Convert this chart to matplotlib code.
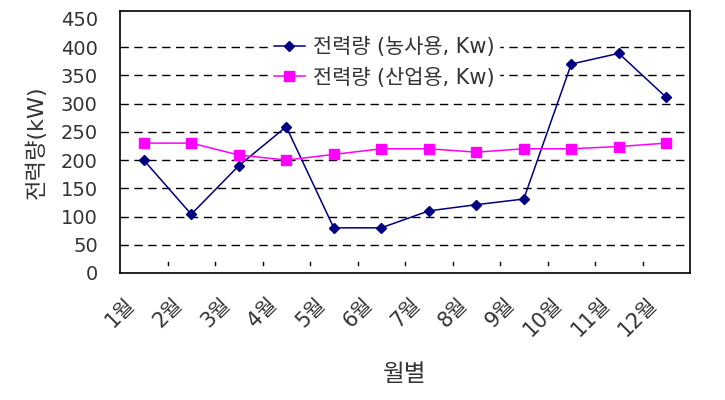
import matplotlib
matplotlib.use("Agg")
import matplotlib.pyplot as plt
import matplotlib.transforms as mtransforms
import numpy as np

plt.rcParams['font.family'] = ['DejaVu Sans', 'Noto Sans CJK KR']

months = ['1월', '2월', '3월', '4월', '5월', '6월', '7월', '8월', '9월', '10월', '11월', '12월']
farm_kw = [200, 104, 190, 259, 80, 80, 110, 121, 131, 370, 389, 311]
industry_kw = [230, 230, 209, 200, 210, 220, 220, 214, 220, 220, 224, 230]
yticks = [0, 50, 100, 150, 200, 250, 300, 350, 400, 450]

fig = plt.figure(figsize=(7.25, 4), dpi=100)
ax = fig.add_axes([120 / 725, 1 - 273 / 400, 570 / 725, 262 / 400])

x = np.arange(len(months))
ax.plot(x, farm_kw, color='#000080', marker='D', markersize=5, linewidth=1.1,
        label='전력량 (농사용, Kw)')
ax.plot(x, industry_kw, color='#FF00FF', marker='s', markersize=7, linewidth=1.1,
        label='전력량 (산업용, Kw)')

for v in yticks[1:-1]:
    ax.axhline(v, color='black', linestyle=(0, (6, 4)), linewidth=1, zorder=0)

ax.set_xlim(-0.5, len(months) - 0.5)
ax.set_ylim(0, 464)
ax.set_yticks(yticks)
ax.tick_params(axis='y', length=0, labelsize=14, pad=16, labelcolor='#333333')

ax.set_xticks(x)
ax.set_xticklabels(months, rotation=45, ha='right', va='top', rotation_mode='anchor')
ax.tick_params(axis='x', length=0, labelsize=15, pad=15, labelcolor='#333333')
offset = mtransforms.ScaledTranslation(-19 / 100, 0, fig.dpi_scale_trans)
for lbl in ax.get_xticklabels():
    lbl.set_transform(lbl.get_transform() + offset)
for xb in x[:-1] + 0.5:
    ax.plot([xb, xb], [14, 20], color='black', linewidth=1)

for s in ax.spines.values():
    s.set_linewidth(1.2)

ax.set_ylabel('전력량(kW)', fontsize=16, color='#333333', labelpad=10)
ax.set_xlabel('월별', fontsize=17, color='#333333', labelpad=16)

leg = ax.legend(loc='upper left', bbox_to_anchor=(0.372, 0.918),
                bbox_transform=fig.transFigure, frameon=True,
                fontsize=15, handlelength=1.5, handletextpad=0.4,
                labelspacing=0.5, borderpad=0.2, borderaxespad=0)
leg.get_frame().set_edgecolor('white')
leg.get_frame().set_facecolor('white')
leg.get_frame().set_alpha(1)
for t in leg.get_texts():
    t.set_color('#333333')

fig.savefig('out.png', dpi=100)
